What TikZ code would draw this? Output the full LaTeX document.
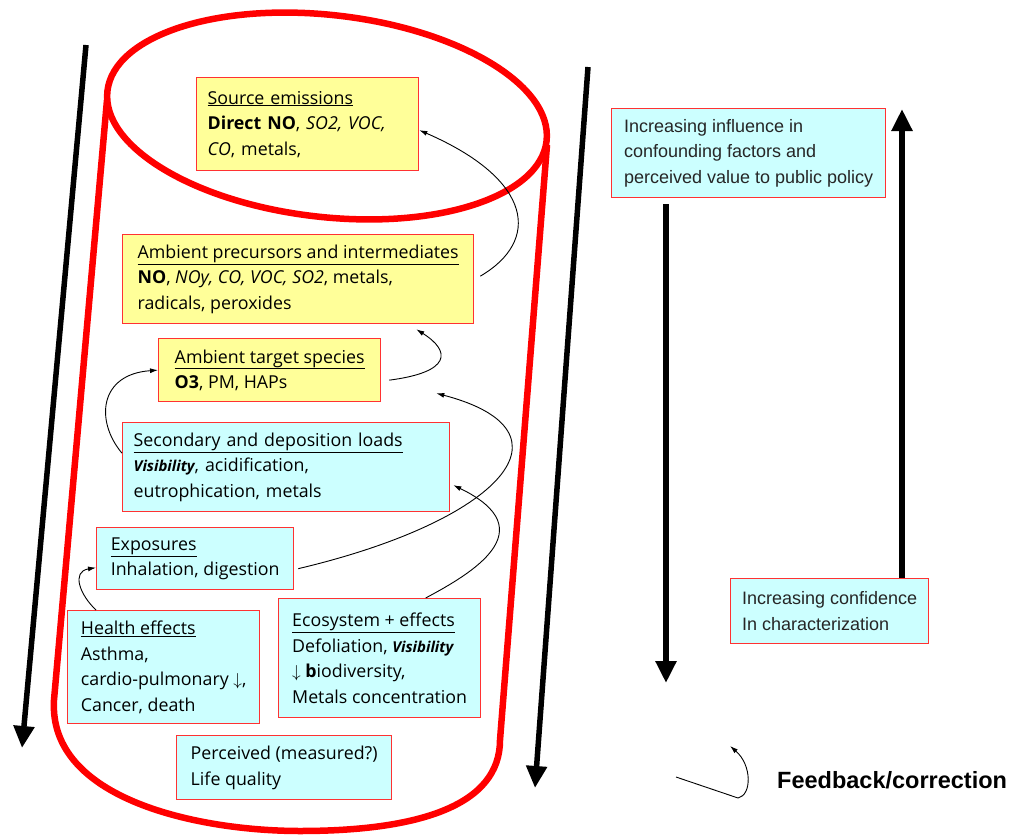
\documentclass[tikz,border=0pt]{standalone}
\usepackage{fontspec}
\setmainfont{Open Sans}
\newfontfamily\arialfont{Liberation Sans}
\usetikzlibrary{arrows.meta,calc}
\definecolor{boxred}{RGB}{255,50,50}
\definecolor{sandy}{RGB}{255,255,153}
\definecolor{aqua}{RGB}{204,255,255}

\begin{document}
\begin{tikzpicture}[x=1pt,y=-1pt,
    box/.style={draw=boxred, line width=1.3pt, anchor=north west, align=left, inner xsep=10pt, inner ysep=0pt, font=\fontsize{17.8}{25.5}\selectfont},
    yelbox/.style={box, fill=sandy},
    bluebox/.style={box, fill=aqua},
    sidebox/.style={bluebox, text=black!85, font=\arialfont\fontsize{18}{25.5}\selectfont},
    cyl/.style={red, line width=6.5pt},
    flow/.style={line width=0.9pt, -{Latex[length=8pt,width=5pt]}},
    bigarrow/.style={line width=5.5pt, -{Triangle[length=22pt,width=20pt]}}]
    \useasboundingbox (0,0) rectangle (1013,836);

    \draw[cyl, rotate around={-6.5:(327,116)}] (327,116) ellipse [x radius=221, y radius=101];
    \draw[cyl] (107,100) -- (54,700) .. controls (48,800) and (200,831) .. (300,831) .. controls (420,831) and (500,805) .. (500,740) -- (547,145);

    \draw[bigarrow] (86,45) -- (22,748);
    \draw[bigarrow] (588,67) -- (535,788);

    \node[yelbox, minimum width=222, minimum height=93, text width=200] (src) at (196,77)
        {\underline{Source emissions}\\\textbf{Direct NO}, \textit{SO2, VOC,}\\\textit{CO}, metals,};
    \node[yelbox, minimum width=351, minimum height=89] (prec) at (122,234)
        {\underline{Ambient precursors and intermediates}\\\textbf{NO}, \textit{NOy, CO, VOC, SO2}, metals,\\radicals, peroxides};
    \node[yelbox, minimum width=222, minimum height=63] (target) at (158,338)
        {\underline{Ambient target species}\\\textbf{O3}, PM, HAPs};
    \node[bluebox, minimum width=327, minimum height=89, text width=305] (second) at (122,422)
        {\underline{Secondary and deposition loads}\\{\fontsize{15}{25.5}\selectfont\bfseries\itshape Visibility}, acidification,\\eutrophication, metals};
    \node[bluebox, minimum width=197, minimum height=62] (expo) at (96,527)
        {\underline{Exposures}\\Inhalation, digestion};
    \node[bluebox, minimum width=192, minimum height=113] (health) at (67,610)
        {\underline{Health effects}\\Asthma,\\cardio-pulmonary $\downarrow$,\\Cancer, death};
    \node[bluebox, minimum width=202, minimum height=119] (eco) at (278,598)
        {\underline{Ecosystem + effects}\\Defoliation, {\fontsize{15}{25.5}\selectfont\bfseries\itshape Visibility}\\$\downarrow$ \textbf{b}iodiversity,\\Metals concentration};
    \node[bluebox, minimum width=215, minimum height=64] (percv) at (176,735)
        {Perceived (measured?)\\Life quality};

    \node[sidebox, minimum width=274, minimum height=89] (influence) at (611,108)
        {Increasing influence in\\confounding factors and\\perceived value to public policy};
    \node[sidebox, minimum width=198, minimum height=65] (confid) at (730,578)
        {Increasing confidence\\In characterization};

    \draw[bigarrow] ([xshift=55pt,yshift=-6pt]influence.south west) -- (666,683);
    \draw[bigarrow] ([xshift=172pt]confid.north west) -- (902,109);

    \draw[flow] ([xshift=6pt,yshift=3pt]prec.east) .. controls +(60,-35) and +(115,50) .. ([yshift=-6pt]src.east);
    \draw[flow] ([xshift=8pt,yshift=-10pt]target.east) .. controls +(62,-8) and +(35,22) .. ([xshift=-58pt,yshift=-5pt]prec.south east);
    \draw[flow] ([yshift=14pt]second.west) .. controls +(-27,-32) and +(-59,4) .. (target.west);
    \draw[flow] ([xshift=4pt,yshift=-10pt]expo.east) .. controls +(203,-48) and +(145,38) .. ([xshift=55pt,yshift=9pt]target.south east);
    \draw[flow] ([xshift=46pt]eco.north) .. controls +(45,-24) and +(93,45) .. ([xshift=3pt,yshift=-18pt]second.east);
    \draw[flow] ([xshift=29pt]health.north west) .. controls +(-16,-15) and +(-25,4) .. ([yshift=-9pt]expo.west);

    \coordinate (fbs) at (676,777);
    \coordinate (fbe) at (730,746);
    \draw[line width=0.9pt, -{Latex[length=8pt,width=5pt]}] (fbs) -- (738,798) .. controls (752,795) and (752,765) .. (fbe);
    \node[anchor=west, inner sep=0pt, font=\arialfont\bfseries\fontsize{23.5}{28}\selectfont] (fbtext) at (777,780) {Feedback/correction};

\end{tikzpicture}
\end{document}
